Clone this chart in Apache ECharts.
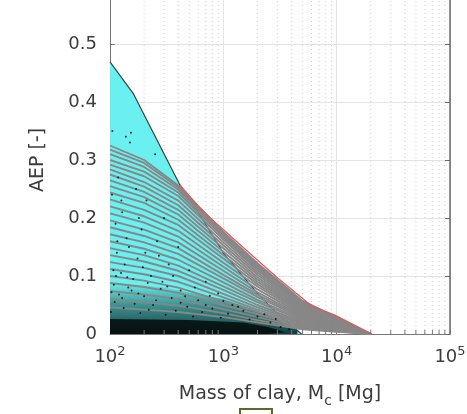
<!DOCTYPE html>
<html>
<head>
<meta charset="utf-8">
<script src="https://cdn.jsdelivr.net/npm/echarts@6/dist/echarts.min.js"></script>
<style>
  html, body { margin: 0; padding: 0; background: #fff; }
</style>
</head>
<body>
<div id="main" style="width: 467px; height: 414px"></div>
<script>
// mass of clay (Mg) where the grey exceedance curves were read
const massPts = [100, 200, 400, 1000, 2000, 5000, 10000, 20000];
// AEP of each grey curve at massPts
const grayCurves = [
  [0.325, 0.300, 0.256, 0.176, 0.122, 0.057, 0.029, 0],
  [0.318, 0.295, 0.253, 0.173, 0.119, 0.055, 0.028, 0],
  [0.310, 0.288, 0.249, 0.170, 0.116, 0.053, 0.027, 0],
  [0.300, 0.280, 0.244, 0.167, 0.113, 0.051, 0.026, 0],
  [0.292, 0.272, 0.238, 0.163, 0.110, 0.049, 0.025, 0],
  [0.284, 0.262, 0.230, 0.158, 0.106, 0.047, 0.024, 0],
  [0.275, 0.254, 0.222, 0.153, 0.102, 0.045, 0.023, 0],
  [0.265, 0.245, 0.214, 0.148, 0.098, 0.043, 0.022, 0],
  [0.255, 0.236, 0.206, 0.142, 0.094, 0.041, 0.021, 0],
  [0.244, 0.226, 0.197, 0.136, 0.090, 0.039, 0.020, 0],
  [0.232, 0.214, 0.188, 0.130, 0.086, 0.037, 0.019, 0],
  [0.220, 0.203, 0.178, 0.123, 0.082, 0.035, 0.018, 0],
  [0.208, 0.192, 0.168, 0.116, 0.077, 0.033, 0.017, 0],
  [0.196, 0.180, 0.158, 0.109, 0.072, 0.031, 0.016, 0],
  [0.184, 0.169, 0.148, 0.102, 0.068, 0.029, 0.015, 0],
  [0.172, 0.158, 0.138, 0.096, 0.064, 0.027, 0.014, 0],
  [0.160, 0.147, 0.128, 0.089, 0.059, 0.025, 0.013, 0],
  [0.148, 0.136, 0.118, 0.082, 0.055, 0.023, 0.012, 0],
  [0.136, 0.125, 0.109, 0.076, 0.050, 0.021, 0.011, 0],
  [0.124, 0.114, 0.100, 0.069, 0.046, 0.019, 0.010, 0],
  [0.112, 0.103, 0.090, 0.063, 0.042, 0.017, 0.009, 0],
  [0.100, 0.092, 0.080, 0.056, 0.038, 0.015, 0.008, 0],
  [0.088, 0.081, 0.071, 0.050, 0.034, 0.013, 0.007, 0],
  [0.074, 0.068, 0.060, 0.043, 0.029, 0.011, 0.006, 0],
  [0.060, 0.055, 0.049, 0.036, 0.024, 0.010, 0.005, 0],
  [0.046, 0.042, 0.038, 0.029, 0.020, 0.008, 0.004, 0]
];
// cyan envelope
const envelopeMass = [100, 160, 414, 600, 1000, 2000, 3000, 4900];
const envelopeAep = [0.469, 0.415, 0.257, 0.21, 0.14, 0.07, 0.035, 0];
// red upper curve
const redMass = [414, 621, 841, 1500, 2960, 6150, 9550, 20400];
const redAep = [0.257, 0.217, 0.193, 0.149, 0.098, 0.047, 0.033, 0];
// speckled black region and solid black band near zero
const darkMass = [100, 300, 1000, 2000, 3000, 4500];
const darkAep = [0.09, 0.08, 0.06, 0.04, 0.025, 0.006];
const coreMass = [100, 500, 1500, 2500, 3500];
const coreAep = [0.026, 0.024, 0.02, 0.012, 0.003];
// scattered black points
const dotPts = [
  [105, 0.35], [138, 0.34], [153, 0.347], [150, 0.33], [250, 0.31], [118, 0.27],
  [170, 0.25], [210, 0.23], [128, 0.21], [300, 0.2], [112, 0.19], [190, 0.18],
  [140, 0.165], [260, 0.16], [400, 0.15], [115, 0.14], [175, 0.13], [330, 0.12],
  [500, 0.11], [125, 0.105], [230, 0.1], [160, 0.095], [700, 0.09], [108, 0.085],
  [145, 0.08], [280, 0.078], [420, 0.075], [900, 0.07], [120, 0.068], [200, 0.065],
  [350, 0.062], [600, 0.058], [1200, 0.05], [110, 0.055], [165, 0.052], [240, 0.05],
  [480, 0.047], [800, 0.044], [1500, 0.04], [132, 0.045], [220, 0.042], [380, 0.04],
  [650, 0.038], [1100, 0.035], [2000, 0.03], [102, 0.038], [185, 0.036], [310, 0.033],
  [540, 0.03], [950, 0.028], [1700, 0.025], [2600, 0.02], [3200, 0.012], [3800, 0.008],
  [135, 0.12], [205, 0.14], [107, 0.11], [290, 0.09], [155, 0.075], [460, 0.065],
  [104, 0.24], [126, 0.23], [180, 0.2], [116, 0.16], [147, 0.15], [195, 0.115],
  [270, 0.135], [360, 0.1], [113, 0.1], [142, 0.098], [215, 0.088], [320, 0.082],
  [560, 0.08], [760, 0.066], [1000, 0.057], [1350, 0.047], [103, 0.072], [128, 0.062],
  [178, 0.07], [255, 0.058], [420, 0.054], [700, 0.05], [2300, 0.034], [2900, 0.026]
];
const minorMass = [200, 300, 400, 500, 600, 700, 800, 900,
  2000, 3000, 4000, 5000, 6000, 7000, 8000, 9000,
  20000, 30000, 40000, 50000, 60000, 70000, 80000, 90000];

const font = 'DejaVu Sans, sans-serif';
const txt = '#3c3c3c';

const zip = (xs, ys) => xs.map((x, i) => [x, ys[i]]);

const chart = echarts.init(document.getElementById('main'));

const series = [];
minorMass.forEach(v => {
  series.push({
    type: 'line', silent: true, symbol: 'none', z: 1,
    data: [[v, 0], [v, 0.6]],
    lineStyle: { color: '#cfcfcf', width: 1, type: [1, 3] }
  });
  series.push({
    type: 'line', silent: true, symbol: 'none', z: 7,
    data: [[v, 0], [v, 0.007]],
    lineStyle: { color: '#777', width: 1 }
  });
});
series.push({
  type: 'line', symbol: 'none', z: 2, silent: true,
  data: zip(envelopeMass, envelopeAep),
  lineStyle: { color: '#2b4848', width: 1.2 },
  areaStyle: { color: '#6af0f0', opacity: 1 }
});
series.push({
  type: 'line', symbol: 'none', z: 3, silent: true,
  data: zip(darkMass, darkAep),
  lineStyle: { width: 0 },
  areaStyle: {
    opacity: 1,
    color: new echarts.graphic.LinearGradient(0, 0, 0, 1, [
      { offset: 0, color: 'rgba(0,40,40,0)' },
      { offset: 0.45, color: 'rgba(0,30,30,0.45)' },
      { offset: 1, color: 'rgba(0,15,15,0.8)' }
    ])
  }
});
series.push({
  type: 'line', symbol: 'none', z: 3, silent: true,
  data: zip(coreMass, coreAep),
  lineStyle: { width: 0 },
  areaStyle: { color: '#050a0a', opacity: 0.85 }
});
grayCurves.forEach(c => {
  series.push({
    type: 'line', symbol: 'none', z: 4, silent: true,
    data: zip(massPts, c),
    lineStyle: { color: '#878787', width: 1.9 }
  });
});
series.push({
  type: 'scatter', z: 5, silent: true,
  data: dotPts, symbolSize: 2,
  itemStyle: { color: '#000' }
});
series.push({
  type: 'line', symbol: 'none', z: 6, silent: true,
  data: zip(redMass, redAep),
  lineStyle: { color: '#e05a5a', width: 1.3 }
});

chart.setOption({
  animation: false,
  backgroundColor: '#fff',
  grid: { left: 110, right: 17, top: -14, bottom: 80, outerBoundsMode: 'none' },
  graphic: [{
    type: 'rect', shape: { x: 240, y: 409, width: 32, height: 12 },
    style: { fill: 'none', stroke: '#5b6b28', lineWidth: 2 }
  }],
  xAxis: {
    type: 'log', logBase: 10, min: 100, max: 100000,
    name: 'Mass of clay, M{sub|c} [Mg]',
    nameLocation: 'middle', nameGap: 46,
    nameTextStyle: {
      color: txt, fontFamily: font, fontSize: 19,
      rich: { sub: { fontSize: 14, fontFamily: font, color: txt, padding: [14, 0, 0, 0] } }
    },
    axisLine: { lineStyle: { color: '#777', width: 1 } },
    axisTick: { inside: true, length: 5, lineStyle: { color: '#777' } },
    axisLabel: {
      margin: 11, color: txt, fontFamily: font, fontSize: 18,
      formatter: v => '10{s|' + Math.round(Math.log10(v)) + '}',
      rich: { s: { fontSize: 13, fontFamily: font, color: txt, padding: [0, 0, 12, 0] } }
    },
    splitLine: { show: true, lineStyle: { color: '#e4e4e4', width: 1 } }
  },
  yAxis: [{
    type: 'value', min: 0, max: 0.6, interval: 0.1,
    name: 'AEP [-]', nameLocation: 'middle', nameGap: 62,
    nameTextStyle: { color: txt, fontFamily: font, fontSize: 19 },
    axisLine: { show: true, lineStyle: { color: '#777', width: 1 } },
    axisTick: { show: true, inside: true, length: 5, lineStyle: { color: '#777' } },
    axisLabel: {
      margin: 13, color: txt, fontFamily: font, fontSize: 18,
      formatter: v => v === 0 ? '0' : v.toFixed(1)
    },
    splitLine: { show: true, lineStyle: { color: '#e4e4e4', width: 1 } }
  }, {
    type: 'value', min: 0, max: 0.6, interval: 0.1, position: 'right',
    axisLine: { show: true, lineStyle: { color: '#666', width: 1.5 } },
    axisTick: { show: true, inside: true, length: 5, lineStyle: { color: '#666' } },
    axisLabel: { show: false },
    splitLine: { show: false }
  }],
  series: series
});
</script>
</body>
</html>
